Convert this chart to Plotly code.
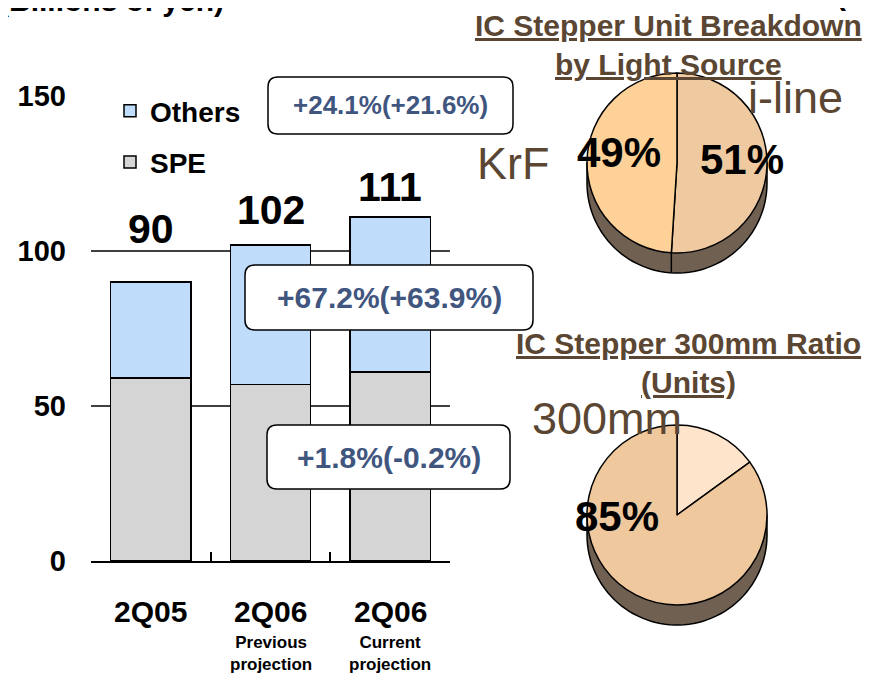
import numpy as np
import plotly.graph_objects as go

# ---------------- data ----------------
categories = ["2Q05", "2Q06 Previous projection", "2Q06 Current projection"]
cat_main = ["2Q05", "2Q06", "2Q06"]
cat_sub = ["", "Previous<br>projection", "Current<br>projection"]
spe = [59, 57, 61]
others = [31, 45, 50]
totals = [90, 102, 111]
y_ticks = [0, 50, 100, 150]
growth_labels = ["+24.1%(+21.6%)", "+67.2%(+63.9%)", "+1.8%(-0.2%)"]

pie1_labels = ["i-line", "KrF"]
pie1_values = [51, 49]
pie2_labels = ["Others", "300mm"]
pie2_values = [15, 85]

# ---------------- helpers ----------------
OFF = 8                      # page body margin
W, H = 873 - OFF, 675 - OFF  # figure size
FONT = "Liberation Sans, Arial, sans-serif"
BROWN = "#5a4632"
BLUE_TXT = "#41567f"


def px(x, y):
    """screen pixel -> paper fraction"""
    return (x - OFF) / W, 1 - (y - OFF) / H


def rrect_path(x0, y0, x1, y1, r):
    pts = [("M", [(x0 + r, y0)]), ("L", [(x1 - r, y0)]), ("Q", [(x1, y0), (x1, y0 + r)]),
           ("L", [(x1, y1 - r)]), ("Q", [(x1, y1), (x1 - r, y1)]), ("L", [(x0 + r, y1)]),
           ("Q", [(x0, y1), (x0, y1 - r)]), ("L", [(x0, y0 + r)]), ("Q", [(x0, y0), (x0 + r, y0)])]
    s = ""
    for cmd, ps in pts:
        s += cmd + " ".join("%.5f,%.5f" % px(a, b) for a, b in ps) + " "
    return s + "Z"


def side_path(cx, cy, r, d):
    ang = np.linspace(np.pi, 0, 60)
    s = "M%.5f,%.5f " % px(cx - r, cy)
    for a in ang:
        s += "L%.5f,%.5f " % px(cx + r * np.cos(a), cy + d + r * np.sin(a))
    s += "L%.5f,%.5f Z" % px(cx + r, cy)
    return s


def txt(x, y, text, size, color="black", bold=False, xanchor="center", yanchor="middle", **kw):
    xp, yp = px(x, y)
    return dict(x=xp, y=yp, xref="paper", yref="paper", text=text, showarrow=False,
                xanchor=xanchor, yanchor=yanchor,
                font=dict(family=FONT, size=size, color=color, weight="bold" if bold else "normal"), **kw)


fig = go.Figure()

# ---------------- stacked bars ----------------
fig.add_trace(go.Bar(x=categories, y=spe, name="SPE", legendgroup="spe", legendrank=2,
                     marker=dict(color="#d5d5d5", line=dict(color="black", width=1.5))))
fig.add_trace(go.Bar(x=categories, y=others, name="Others", legendgroup="oth", legendrank=1,
                     marker=dict(color="#bfdcfb", line=dict(color="black", width=1.5))))

# ---------------- pies ----------------
DEPTH = 20
P1 = (677, 163, 90)
P2 = (677, 515, 90)
for (cx, cy, r), labs, vals, cols in [
    (P1, pie1_labels, pie1_values, ["#efc9a0", "#fdd197"]),
    (P2, pie2_labels, pie2_values, ["#fde4ca", "#efc89e"]),
]:
    xa, ya = px(cx - r, cy + r)
    xb, yb = px(cx + r, cy - r)
    fig.add_trace(go.Pie(labels=labs, values=vals, sort=False, direction="clockwise",
                         rotation=0, textinfo="none", showlegend=False,
                         marker=dict(colors=cols, line=dict(color="black", width=1.5)),
                         domain=dict(x=[xa, xb], y=[ya, yb])))

shapes = []
# gridlines
for v in [50, 100]:
    shapes.append(dict(type="line", xref="x domain", yref="y", x0=0, x1=1, y0=v, y1=v,
                       line=dict(color="black", width=1.5), layer="below"))
# pie depth (3-D side)
for cx, cy, r in [P1, P2]:
    shapes.append(dict(type="path", xref="paper", yref="paper", path=side_path(cx, cy, r, DEPTH),
                       fillcolor="#6f6052", line=dict(color="black", width=1.5), layer="below"))
# slice boundary on the visible side of pie 1
cx, cy, r = P1
theta = 2 * np.pi * pie1_values[0] / sum(pie1_values)
bx, by = cx + r * np.sin(theta), cy - r * np.cos(theta)
x0p, y0p = px(bx, by)
x1p, y1p = px(bx, by + DEPTH)
shapes.append(dict(type="line", xref="paper", yref="paper", x0=x0p, y0=y0p, x1=x1p, y1=y1p,
                   line=dict(color="black", width=1.5), layer="below"))

annotations = []
# callout boxes
boxes = [(268, 77, 513, 134, 26), (245, 265, 533, 330, 30), (267, 425, 510, 489, 30)]
for (x0, y0, x1, y1, fs), t in zip(boxes, growth_labels):
    shapes.append(dict(type="path", xref="paper", yref="paper", path=rrect_path(x0, y0, x1, y1, 10),
                       fillcolor="white", line=dict(color="black", width=1.5), layer="above"))
    annotations.append(txt((x0 + x1) / 2, (y0 + y1) / 2, t, fs, BLUE_TXT, bold=True))

# totals above bars
total_shift = [53, 35, 30]
for c, t, sh in zip(categories, totals, total_shift):
    annotations.append(dict(x=c, y=t, xref="x", yref="y", yshift=sh, yanchor="middle", xanchor="center",
                            text=str(t), showarrow=False,
                            font=dict(family=FONT, size=41, color="black", weight="bold")))

# category labels
for c, m, s in zip(categories, cat_main, cat_sub):
    annotations.append(dict(x=c, y=px(0, 611)[1], xref="x", yref="paper", text=m,
                            showarrow=False, yanchor="middle", xanchor="center",
                            font=dict(family=FONT, size=30, color="black", weight="bold")))
    if s:
        annotations.append(dict(x=c, y=px(0, 631)[1], xref="x", yref="paper", text=s,
                                showarrow=False, yanchor="top", xanchor="center",
                                font=dict(family=FONT, size=17, color="black", weight="bold")))

# pie titles
annotations.append(txt(668, 45, "<u>IC Stepper Unit Breakdown</u><br><u>by Light Source</u>",
                       30, BROWN, bold=True))
annotations.append(txt(688, 363, "<u>IC Stepper 300mm Ratio</u><br><u>(Units)</u>",
                       30, BROWN, bold=True))

# pie slice names
annotations.append(txt(513, 163, pie1_labels[1], 45, BROWN))
annotations.append(txt(795, 98, pie1_labels[0], 45, BROWN))
annotations.append(txt(607, 418, pie2_labels[1], 45, BROWN))

# pie percentages
annotations.append(txt(619, 152, "%d%%" % pie1_values[1], 42, bold=True))
annotations.append(txt(742, 160, "%d%%" % pie1_values[0], 42, bold=True))
annotations.append(txt(617, 516, "%d%%" % pie2_values[1], 42, bold=True))

# clipped header texts
annotations.append(txt(226, 1, "(Billions of yen)", 30, bold=True, xanchor="right"))
annotations.append(txt(834, -6, "(B", 30, bold=True, xanchor="left"))

fig.update_layout(
    width=W, height=H, autosize=False,
    margin=dict(l=0, r=0, t=0, b=0, autoexpand=False),
    paper_bgcolor="white", plot_bgcolor="rgba(0,0,0,0)",
    barmode="stack", bargap=0.33,
    font=dict(family=FONT, color="black"),
    shapes=shapes, annotations=annotations,
    legend=dict(x=px(110, 0)[0], y=px(0, 86)[1], xanchor="left", yanchor="top",
                traceorder="grouped", tracegroupgap=12,
                font=dict(family=FONT, size=28, color="black", weight="bold"),
                bgcolor="rgba(0,0,0,0)", itemwidth=30),
    xaxis=dict(domain=[px(91, 0)[0], px(450, 0)[0]], showticklabels=False, showgrid=False,
               showline=True, linecolor="black", linewidth=1.5, ticks="inside", ticklen=9,
               tickwidth=1.5, tickcolor="black", tickson="boundaries", zeroline=False,
               automargin=False),
    yaxis=dict(domain=[px(0, 561)[1], px(0, 96)[1]], range=[0, 150], tickvals=y_ticks,
               showgrid=False, zeroline=False, showline=False, ticks="",
               tickfont=dict(family=FONT, size=29, color="black", weight="bold"),
               ticklabelstandoff=24, automargin=False),
)

fig.write_html("out.html")
